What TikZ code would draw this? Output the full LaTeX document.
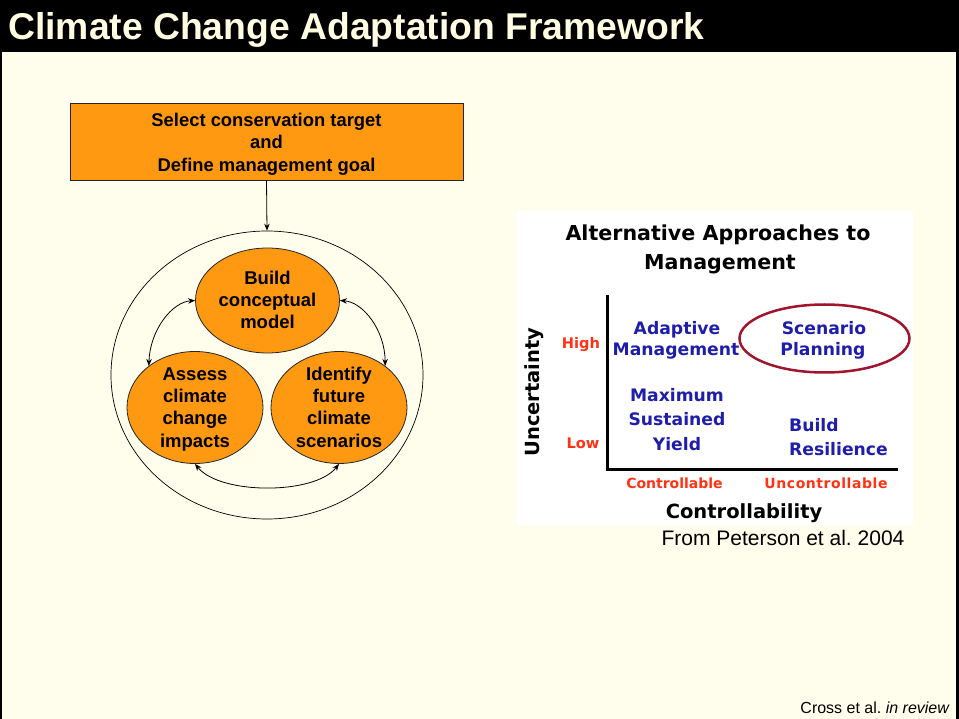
\documentclass[tikz,border=0pt]{standalone}
\usepackage{fontspec}
\setmainfont{Liberation Sans}
\newfontfamily\dv{DejaVu Sans}
\newfontfamily\dvsp[LetterSpace=4]{DejaVu Sans}
\usetikzlibrary{shapes.geometric,arrows.meta}
\definecolor{cream}{RGB}{255,253,235}
\definecolor{orng}{RGB}{255,153,18}
\definecolor{navy}{RGB}{30,30,170}
\definecolor{redlab}{RGB}{255,50,20}
\definecolor{ovalred}{RGB}{160,20,45}
\definecolor{titlecol}{RGB}{255,252,225}
\frenchspacing
\begin{document}
\begin{tikzpicture}[x=1pt,y=-1pt,
  orbox/.style={draw=black!85, line width=0.8pt, fill=orng, inner sep=0, align=center,
    font=\bfseries\fontsize{18.4}{22.5}\selectfont},
  ell/.style={ellipse, draw=black!85, line width=0.8pt, fill=orng, inner sep=0},
  lab/.style={font=\bfseries\fontsize{18.5}{22.3}\selectfont, align=center},
  chart/.style={font=\dv\bfseries\fontsize{17.2}{20}\selectfont, text=navy, anchor=mid},
  redl/.style={font=\dv\bfseries\fontsize{14}{16}\selectfont, text=redlab, anchor=mid},
  blk/.style={font=\dv\bfseries\fontsize{19.5}{22}\selectfont, text=black, anchor=mid},
  arr/.style={{Stealth[length=7pt,width=5.5pt]}-{Stealth[length=7pt,width=5.5pt]}, line width=0.8pt}
]
\useasboundingbox (0,0) rectangle (959,719);
\fill[black] (0,0) rectangle (959,719);
\fill[cream] (2,52) rectangle (956,719);
\node[anchor=base west, text=titlecol, font=\bfseries\fontsize{37.3}{40}\selectfont, inner sep=0] (title) at (8,40) {Climate Change Adaptation Framework};

% left flow
\node[orbox, minimum width=393pt, minimum height=77pt] (target) at (266.5,141.5) {};
\node[align=center, inner sep=0, font=\bfseries\fontsize{18.4}{22.5}\selectfont] (targett) at (266.5,144.3)
  {\strut Select conservation target\\and\\Define management goal\strut};
\node[ellipse, draw=black, line width=0.7pt, minimum width=312pt, minimum height=288pt, inner sep=0] (outer) at (267,375) {};
\draw[-{Stealth[length=7pt,width=5.5pt]}, line width=0.8pt] (target.south) -- (outer.north);

\node[ell, minimum width=144pt, minimum height=105pt] (build) at (267.5,300.5) {};
\node[ell, minimum width=136pt, minimum height=112pt] (assess) at (195,407.5) {};
\node[ell, minimum width=136pt, minimum height=112pt] (ident) at (339,407.5) {};
\node[lab, inner sep=0] (buildt) at (267.5,302.2) {\strut Build\\conceptual\\model\strut};
\node[lab, inner sep=0] (assesst) at (195,409.2) {\strut Assess\\climate\\change\\impacts\strut};
\node[lab, inner sep=0] (identt) at (339,409.2) {\strut Identify\\future\\climate\\scenarios\strut};

\draw[arr] (build.west) .. controls (172,302) and (150,330) .. (assess.138);
\draw[arr] (build.east) .. controls (363,302) and (385,330) .. (ident.42);
\draw[arr] (assess.south) .. controls (220,495) and (315,495) .. (ident.south);

% right chart
\fill[white] (517,211) rectangle (913,525);
\node[blk, font=\dv\bfseries\fontsize{20.6}{24}\selectfont] (ct1) at (718,237.5) {Alternative Approaches to};
\node[blk, font=\dv\bfseries\fontsize{20.6}{24}\selectfont] (ct2) at (720,266.5) {Management};
\coordinate (axtop) at (607.5,295);
\coordinate (axorig) at (607.5,469.5);
\coordinate (axright) at (898,469.5);
\draw[line width=3pt] (axtop) -- (axorig) -- (axright);
\node[blk, rotate=90] (unc) at (537,392) {Uncertainty};
\node[redl, font=\dv\bfseries\fontsize{14.6}{16}\selectfont] (high) at (581,346) {High};
\node[redl, font=\dv\bfseries\fontsize{14.6}{16}\selectfont] (low) at (583,446) {Low};
\node[chart] (ad1) at (677,332) {Adaptive};
\node[chart] (ad2) at (676,353) {Management};
\node[chart] (sc1) at (824,332) {Scenario};
\node[chart] (sc2) at (823,353) {Planning};
\node[ellipse, draw=ovalred, line width=2.5pt, minimum width=170pt, minimum height=68pt, inner sep=0] (oval) at (824.5,338.5) {};
\node[chart] (my1) at (677,399) {Maximum};
\node[chart] (my2) at (677,423) {Sustained};
\node[chart] (my3) at (677,448) {Yield};
\node[chart, anchor=mid west, inner sep=0] (br1) at (789,429) {Build};
\node[chart, anchor=mid west, inner sep=0] (br2) at (789,453) {Resilience};
\node[redl] (ctl) at (674.5,486) {Controllable};
\node[redl, font=\dvsp\bfseries\fontsize{14}{16}\selectfont] (unctl) at (826,486) {Uncontrollable};
\node[blk] (ctlb) at (744,516) {Controllability};
\node[anchor=mid, font=\fontsize{21}{24}\selectfont] (src) at (783,543) {From Peterson et al. 2004};

\node[anchor=base east, inner sep=0, font=\fontsize{16}{18}\selectfont] (cross) at (950,713) {Cross et al. \textit{in review}};
\end{tikzpicture}
\end{document}
